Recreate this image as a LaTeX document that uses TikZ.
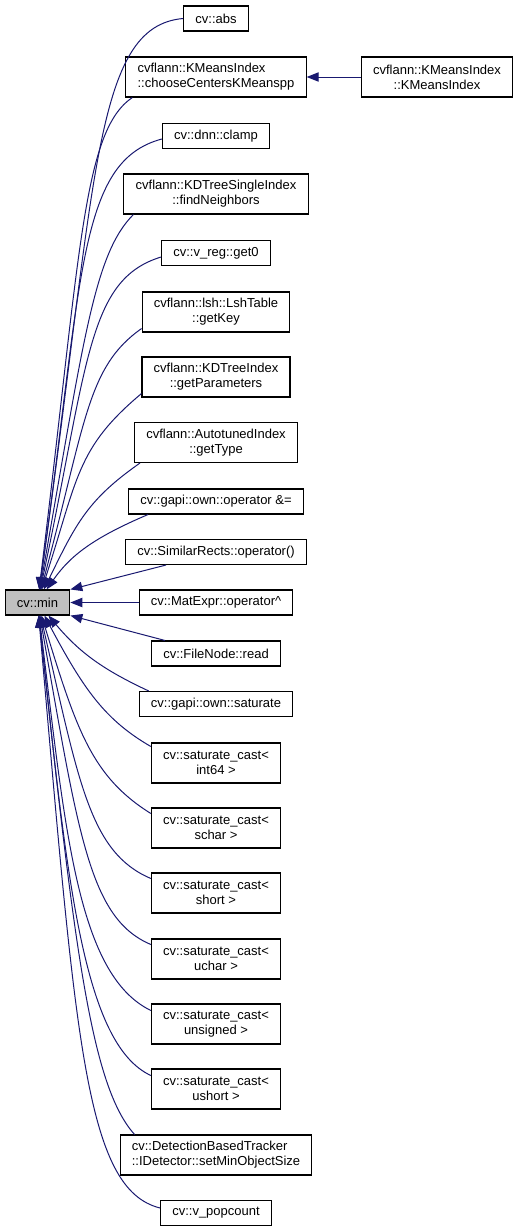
\documentclass[tikz,border=0pt]{standalone}
\usepackage{fontspec}
\setmainfont{Liberation Sans}
\usetikzlibrary{arrows.meta}
\definecolor{cEdge}{RGB}{25,25,112}
\definecolor{cFocus}{RGB}{191,191,191}

\begin{document}
\begin{tikzpicture}[
  x=0.75pt, y=0.75pt,
  font=\fontsize{9.75}{11.25}\selectfont,
  func/.style={draw=black, line width=0.8pt, fill=white, align=center,
    inner xsep=8.8pt, inner ysep=2pt, minimum height=18.75pt},
  twoline/.style={minimum height=30pt},
  focus/.style={func, fill=cFocus},
  arr/.style={{Triangle[length=9pt,width=7pt]}-, draw=cEdge, line width=0.75pt},
]
\useasboundingbox (0,0) rectangle (519,-1232);

% Function of interest
\node[focus] (min) at (37.5,-602.5) {cv::min};

% Callers, one column
\node[func] (abs) at (216,-18.5) {cv::abs};
\node[func,twoline,align=left] (cc) at (216,-77)
  {cvflann::KMeansIndex\\::chooseCentersKMeanspp};
\node[func,twoline] (kmi) at (437,-77) {cvflann::KMeansIndex\\::KMeansIndex};
\node[func] (clamp) at (216,-136) {cv::dnn::clamp};
\node[func,twoline] (fn) at (216,-194) {cvflann::KDTreeSingleIndex\\::findNeighbors};
\node[func] (get0) at (216,-253) {cv::v\_reg::get0};
\node[func,twoline] (gk) at (216,-312) {cvflann::lsh::LshTable\\::getKey};
\node[func,twoline] (gp) at (216,-377) {cvflann::KDTreeIndex\\::getParameters};
\node[func,twoline] (gt) at (216,-442.5) {cvflann::AutotunedIndex\\::getType};
\node[func] (op) at (216,-501.5) {cv::gapi::own::operator \&=};
\node[func] (sr) at (216,-552) {cv::SimilarRects::operator()};
\node[func] (me) at (216,-602.5) {cv::MatExpr::operator\textasciicircum};
\node[func] (fr) at (216,-653.5) {cv::FileNode::read};
\node[func] (sat) at (216,-704) {cv::gapi::own::saturate};
\node[func,twoline] (i64) at (216,-763) {cv::saturate\_cast<\\int64 >};
\node[func,twoline] (sch) at (216,-828) {cv::saturate\_cast<\\schar >};
\node[func,twoline] (sho) at (216,-893) {cv::saturate\_cast<\\short >};
\node[func,twoline] (uch) at (216,-959) {cv::saturate\_cast<\\uchar >};
\node[func,twoline] (uns) at (216,-1024) {cv::saturate\_cast<\\unsigned >};
\node[func,twoline] (ush) at (216,-1089) {cv::saturate\_cast<\\ushort >};
\node[func,twoline,align=left] (dbt) at (216,-1155)
  {cv::DetectionBasedTracker\\::IDetector::setMinObjectSize};
\node[func] (vp) at (216,-1213) {cv::v\_popcount};

% Calls from above
\draw[arr] (min) to[out=82,in=185,out distance=310pt,in distance=68pt] (abs.west);
\draw[arr] (min) to[out=83,in=214,out distance=255pt,in distance=45pt] ([shift={(7,0)}]cc.south west);
\draw[arr] (min) to[out=82,in=195,out distance=236pt,in distance=66pt] ([shift={(0,-3)}]clamp.west);
\draw[arr] (min) to[out=80,in=225,out distance=190pt,in distance=42pt] ([shift={(10,0)}]fn.south west);
\draw[arr] (min) to[out=78,in=197,out distance=174pt,in distance=58pt] ([shift={(0,-4)}]get0.west);
\draw[arr] (min) to[out=75,in=215,out distance=130pt,in distance=50pt] ([shift={(0,4)}]gk.south west);
\draw[arr] (min) to[out=72,in=220,out distance=88pt,in distance=64pt] ([shift={(0,4)}]gp.south west);
\draw[arr] (min) to[out=64,in=215,out distance=55pt,in distance=48pt] ([shift={(6,0)}]gt.south west);
\draw[arr] (min) to[out=55,in=203,out distance=30pt,in distance=46pt] ([shift={(20,0)}]op.south west);

% Straight calls
\draw[arr] (min.north east) -- ([shift={(41,0)}]sr.south west);
\draw[arr] (min.east) -- (me.west);
\draw[arr] (min.south east) -- ([shift={(14,0)}]fr.north west);

% Calls from below
\draw[arr] (min) to[out=-50,in=155,out distance=36pt,in distance=38pt] ([shift={(10,0)}]sat.north west);
\draw[arr] (min) to[out=-62,in=150,out distance=62pt,in distance=40pt] ([shift={(0,-4)}]i64.north west);
\draw[arr] (min) to[out=-73,in=148,out distance=90pt,in distance=52pt] ([shift={(0,-6)}]sch.north west);
\draw[arr] (min) to[out=-77,in=157,out distance=128pt,in distance=50pt] ([shift={(0,-6)}]sho.north west);
\draw[arr] (min) to[out=-80,in=157,out distance=168pt,in distance=50pt] ([shift={(0,-6)}]uch.north west);
\draw[arr] (min) to[out=-83,in=154,out distance=160pt,in distance=62pt] ([shift={(0,-7)}]uns.north west);
\draw[arr] (min) to[out=-84,in=155,out distance=200pt,in distance=56pt] ([shift={(0,-7)}]ush.north west);
\draw[arr] (min) to[out=-84,in=132,out distance=255pt,in distance=48pt] ([shift={(15,0)}]dbt.north west);
\draw[arr] (min) to[out=-85,in=166,out distance=320pt,in distance=58pt] ([shift={(0,-8)}]vp.north west);

% Second level
\draw[arr] (cc) -- (kmi);

\end{tikzpicture}
\end{document}
